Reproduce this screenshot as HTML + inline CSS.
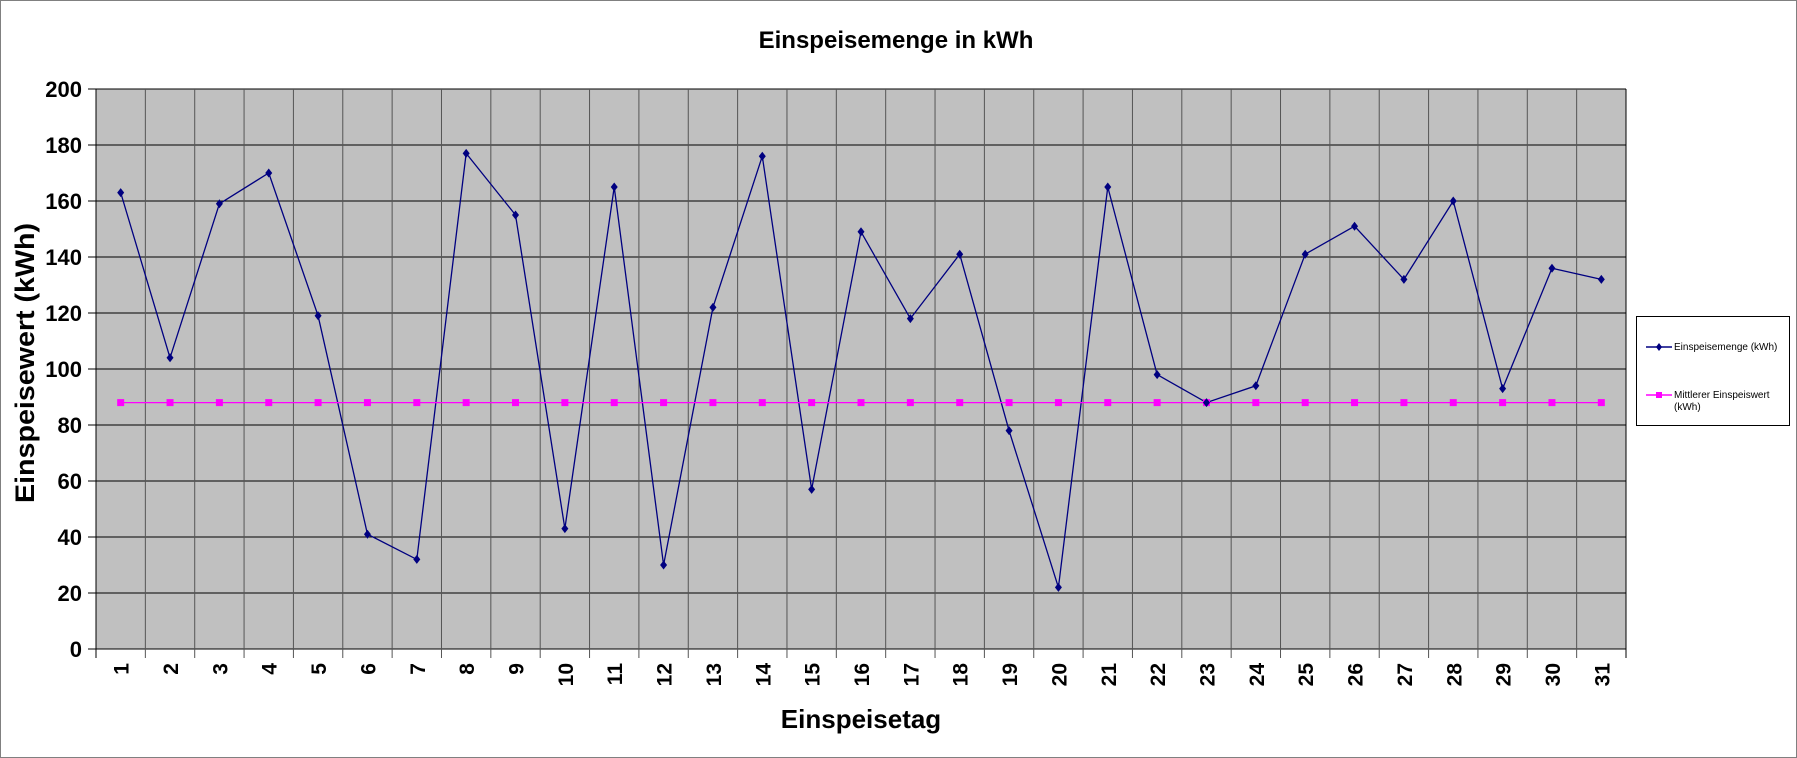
<!DOCTYPE html>
<html><head><meta charset="utf-8"><style>
body{margin:0;background:#fff;}
svg{display:block;font-family:"Liberation Sans",Arial,sans-serif;}
</style></head><body>
<svg id="chart" width="1797" height="758" viewBox="0 0 1797 758">
<rect x="0.5" y="0.5" width="1796" height="757" fill="#fff" stroke="#808080"/>
<text x="896" y="48" text-anchor="middle" font-size="24" font-weight="bold">Einspeisemenge in kWh</text>
<rect x="96" y="89" width="1530" height="560" fill="#c0c0c0"/>
<g id="grid"></g>
<g id="xticks"></g>
<g id="yticks"></g>
<g id="series"></g>
<text transform="translate(34,363) rotate(-90)" text-anchor="middle" font-size="27" font-weight="bold" textLength="280" lengthAdjust="spacingAndGlyphs">Einspeisewert  (kWh)</text>
<text x="861" y="728" text-anchor="middle" font-size="26" font-weight="bold">Einspeisetag</text>
<g>
<rect x="1636.5" y="316.5" width="153" height="109" fill="#fff" stroke="#000"/>
<g>
<line x1="1646" y1="347" x2="1672" y2="347" stroke="#000080" stroke-width="1.5"/>
<path d="M1659 343 L1662 347 L1659 351 L1656 347Z" fill="#000080"/>
<text x="1674" y="350" font-size="10">Einspeisemenge (kWh)</text>
</g>
<g>
<line x1="1646" y1="395" x2="1672" y2="395" stroke="#ff00ff" stroke-width="1.5"/>
<rect x="1656" y="392" width="6" height="6" fill="#ff00ff"/>
<text x="1674" y="398" font-size="10">Mittlerer Einspeiswert</text>
<text x="1674" y="410" font-size="10">(kWh)</text>
</g>
</g>
</svg>
<script>
const days = ["1","2","3","4","5","6","7","8","9","10","11","12","13","14","15","16","17","18","19","20","21","22","23","24","25","26","27","28","29","30","31"];
const einspeisemenge = [163,104,159,170,119,41,32,177,155,43,165,30,122,176,57,149,118,141,78,22,165,98,88,94,141,151,132,160,93,136,132];
const mittlerer = [88,88,88,88,88,88,88,88,88,88,88,88,88,88,88,88,88,88,88,88,88,88,88,88,88,88,88,88,88,88,88];
const yTicks = [0,20,40,60,80,100,120,140,160,180,200];
const L=96,R=1626,T=89,B=649,yMax=200;
const NS="http://www.w3.org/2000/svg";
const bw=(R-L)/days.length;
const xs=i=>L+bw*(i+0.5);
const ys=v=>B-(v/yMax)*(B-T);
function mk(tag,attrs,parent){const e=document.createElementNS(NS,tag);for(const k in attrs)e.setAttribute(k,attrs[k]);parent.appendChild(e);return e;}
const grid=document.getElementById('grid'),xt=document.getElementById('xticks'),yt=document.getElementById('yticks'),ser=document.getElementById('series');
yTicks.forEach(v=>{
  const y=ys(v);
  const l=mk('line',{x1:L-8,x2:R,y1:y,y2:y,stroke:'#000','stroke-width':1},grid);
  
  
  const t=mk('text',{x:L-14,y:y+8,'text-anchor':'end','font-size':22,'font-weight':'bold'},yt);
  t.textContent=v;
  
  
});
for(let i=0;i<=days.length;i++){
  const x=L+bw*i;
  const l=mk('line',{x1:x,x2:x,y1:T,y2:B+9,stroke:i==0||i==days.length?'#000':'#555','stroke-width':1},grid);
  
  
}
days.forEach((d,i)=>{
  const x=xs(i);
  const t=mk('text',{transform:`translate(${x+8},${B+14}) rotate(-90)`,'text-anchor':'end','font-size':21,'font-weight':'bold'},xt);
  t.textContent=d;
  
  
});
const p1=mk('polyline',{points:einspeisemenge.map((v,i)=>xs(i)+','+ys(v)).join(' '),fill:'none',stroke:'#000080','stroke-width':1.3},ser);


const p2=mk('polyline',{points:mittlerer.map((v,i)=>xs(i)+','+ys(v)).join(' '),fill:'none',stroke:'#ff00ff','stroke-width':1.3},ser);


mittlerer.forEach((v,i)=>{
  const r=mk('rect',{x:xs(i)-3.5,y:ys(v)-3.5,width:7,height:7,fill:'#ff00ff'},ser);
  
  
});
einspeisemenge.forEach((v,i)=>{
  const x=xs(i),y=ys(v);
  const m=mk('path',{d:`M${x} ${y-4.5}L${x+3.5} ${y}L${x} ${y+4.5}L${x-3.5} ${y}Z`,fill:'#000080'},ser);
  
  
});
</script>
</body></html>
